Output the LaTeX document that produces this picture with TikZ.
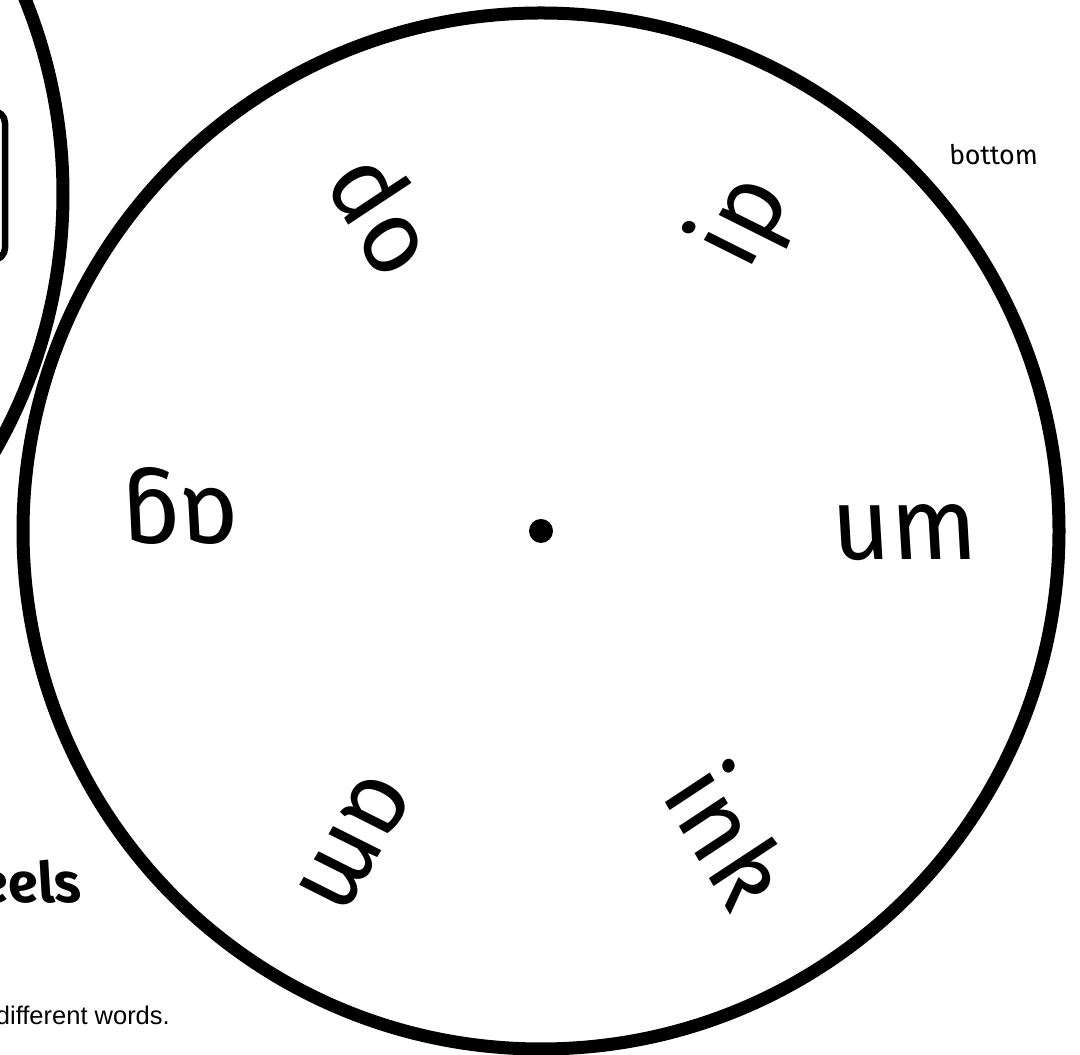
\documentclass[tikz,border=0pt]{standalone}
\usepackage{fontspec}
\usetikzlibrary{calc}
\newfontfamily\wheelfont{Fira Sans}[ItalicFeatures={FakeSlant=-0.2},BoldItalicFeatures={FakeSlant=-0.2}]
\newfontfamily\arialfont{Liberation Sans}
\begin{document}
\begin{tikzpicture}[x=1pt,y=1pt,
  wheel/.style={draw=black,line width=13pt},
  window/.style={draw=black,line width=6.5pt,rounded corners=12pt},
  word/.style={font=\wheelfont\itshape\fontsize{102}{112}\selectfont,inner sep=0pt,anchor=base}]
\useasboundingbox (0,0) rectangle (1080,1055);
\coordinate (C) at (541,524);
% left (partial) wheel
\draw[wheel] (-455,861) circle[radius=518];
\draw[window] (-60,944) -- (5,944) -- (5,795) -- (-60,795);
% main wheel
\draw[wheel] (C) circle[radius=518];
\fill[black] (C) circle[radius=12];
\node[word,rotate=0]   (um)  at ($(C)+(0:369)+(-90:29)$)   {um};
\node[word,rotate=60]  (ip)  at ($(C)+(60:375)+(-30:50)$)  {ip};
\node[word,rotate=120] (op)  at ($(C)+(120:358)+(30:40)$)  {op};
\node[word,rotate=180] (ag)  at ($(C)+(180:366)+(90:41)$)  {ag};
\node[word,rotate=240] (am)  at ($(C)+(240:368)+(150:32)$) {am};
\node[word,rotate=300] (ink) at ($(C)+(300:363)+(210:28)$) {ink};
% labels
\node[font=\wheelfont\itshape\fontsize{27}{32}\selectfont,inner sep=0pt,anchor=base] (bottom) at (995,890) {bottom};
\node[font=\wheelfont\bfseries\itshape\fontsize{56}{66}\selectfont,inner sep=0pt,anchor=base east] (title) at (84,152) {eels};
\node[font=\arialfont\fontsize{25.5}{30}\selectfont,inner sep=0pt,anchor=base east] (instr) at (170,30) {different words.};
\end{tikzpicture}
\end{document}
